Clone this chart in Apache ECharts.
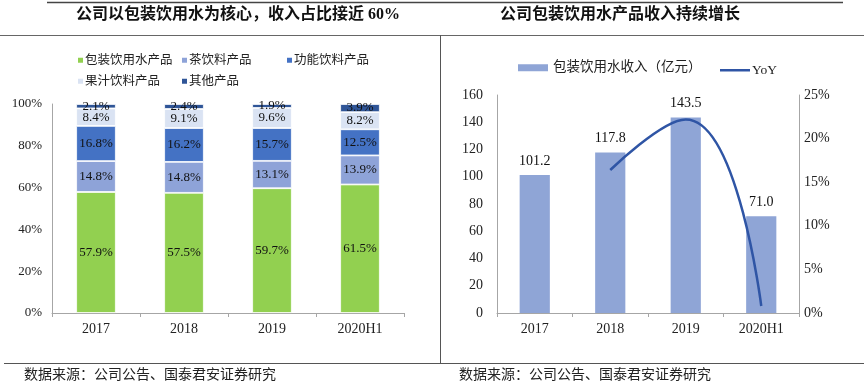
<!DOCTYPE html>
<html><head><meta charset="utf-8">
<script src="https://cdn.jsdelivr.net/npm/echarts@6/dist/echarts.min.js"></script>
<style>html,body{margin:0;padding:0;background:#fff}#c{width:864px;height:387px}</style>
</head><body><div id="c"></div>
<script>
const categories = ['2017', '2018', '2019', '2020H1'];
const waterShare = [57.9, 57.5, 59.7, 61.5];
const teaShare = [14.8, 14.8, 13.1, 13.9];
const functionalShare = [16.8, 16.2, 15.7, 12.5];
const juiceShare = [8.4, 9.1, 9.6, 8.2];
const otherShare = [2.1, 2.4, 1.9, 3.9];
const shareNames = ['包装饮用水产品', '茶饮料产品', '功能饮料产品', '果汁饮料产品', '其他产品'];
const waterRevenue = [101.2, 117.8, 143.5, 71.0];
const waterYoY = [null, 16.4, 22.2, 0.8];
const leftTicks = [0, 20, 40, 60, 80, 100];
const rightTicksRevenue = [0, 20, 40, 60, 80, 100, 120, 140, 160];
const rightTicksYoY = [0, 5, 10, 15, 20, 25];

const SERIF = '"Liberation Serif","Times New Roman","Noto Sans CJK SC",serif';
const CJK = '"Liberation Serif","Noto Sans CJK SC",sans-serif';
const shareColors = ['#92D050', '#8EA3D8', '#4472C4', '#DAE3F3', '#2F5597'];
const shareData = [waterShare, teaShare, functionalShare, juiceShare, otherShare];

const chart = echarts.init(document.getElementById('c'), null, {renderer: 'canvas'});

const legendPos = [[76, 54], [180, 54], [285, 54], [76, 75], [180, 75]];
const legends = shareNames.map((n, i) => ({
  data: [n], left: legendPos[i][0], top: legendPos[i][1], padding: 0, itemWidth: 7, itemHeight: 7,
  icon: 'rect', textStyle: {fontFamily: CJK, fontSize: 12.5, color: '#222', padding: [0, 0, 0, -4]}
}));
legends.push({
  data: [{name: '包装饮用水收入（亿元）', icon: 'rect'}],
  left: 518, top: 61, padding: 0, itemWidth: 30, itemHeight: 7,
  textStyle: {fontFamily: CJK, fontSize: 13.5, color: '#222'}
});
legends.push({
  data: [{name: 'YoY', icon: 'rect'}],
  left: 720, top: 63.5, padding: 0, itemWidth: 30, itemHeight: 2.5,
  textStyle: {fontFamily: CJK, fontSize: 13.5, color: '#222', padding: [0, 0, 0, -3]}
});

const series = shareNames.map((n, i) => ({
  name: n, type: 'bar', stack: 'share', xAxisIndex: 0, yAxisIndex: 0,
  data: shareData[i], barWidth: '45%',
  itemStyle: {color: shareColors[i], borderColor: '#fff', borderWidth: 0.8},
  label: {show: true, position: 'inside', formatter: p => p.value.toFixed(1) + '%',
    fontFamily: SERIF, fontSize: 13, color: '#111'}
}));
series.push({
  name: '包装饮用水收入（亿元）', type: 'bar', xAxisIndex: 1, yAxisIndex: 1,
  data: waterRevenue, barWidth: '40%', itemStyle: {color: '#8FA5D6'},
  label: {show: true, position: 'top', distance: 7, formatter: p => p.value.toFixed(1),
    fontFamily: SERIF, fontSize: 14, color: '#111'}
});
series.push({
  name: 'YoY', type: 'line', xAxisIndex: 1, yAxisIndex: 2,
  data: waterYoY, smooth: 0.5, showSymbol: false, symbol: 'none',
  lineStyle: {color: '#2F55A5', width: 2.5}, itemStyle: {color: '#2F55A5'}
});

const axisLine = {show: true, lineStyle: {color: '#A6A6A6', width: 1}};
const axisLabelStyle = {fontFamily: SERIF, fontSize: 13, color: '#222'};

chart.setOption({
  animation: false,
  legend: legends,
  grid: [
    {left: 52, right: 460, top: 104, bottom: 74},
    {left: 497, right: 65, top: 95, bottom: 74}
  ],
  xAxis: [
    {type: 'category', gridIndex: 0, data: categories, axisLine, axisTick: {show: true, lineStyle: {color: '#A6A6A6'}, length: 4},
      axisLabel: {...axisLabelStyle, fontSize: 14, margin: 9}},
    {type: 'category', gridIndex: 1, data: categories, axisLine, axisTick: {show: true, lineStyle: {color: '#A6A6A6'}, length: 4},
      axisLabel: {...axisLabelStyle, fontSize: 14, margin: 9}}
  ],
  yAxis: [
    {type: 'value', gridIndex: 0, min: 0, max: 100, interval: 20, axisLine, axisTick: {show: false}, splitLine: {show: false},
      axisLabel: {...axisLabelStyle, margin: 10, formatter: '{value}%'}},
    {type: 'value', gridIndex: 1, min: 0, max: 160, interval: 20, axisLine, axisTick: {show: false}, splitLine: {show: false},
      axisLabel: {...axisLabelStyle, fontSize: 14, margin: 14}},
    {type: 'value', gridIndex: 1, position: 'right', min: 0, max: 25, interval: 5, axisLine, axisTick: {show: false}, splitLine: {show: false},
      axisLabel: {...axisLabelStyle, fontSize: 14, margin: 5, formatter: '{value}%'}}
  ],
  series,
  graphic: [
    {type: 'line', shape: {x1: 47, y1: 2.5, x2: 440, y2: 2.5}, style: {stroke: '#444', lineWidth: 1.5}},
    {type: 'line', shape: {x1: 440, y1: 2.5, x2: 843, y2: 2.5}, style: {stroke: '#444', lineWidth: 1.5}},
    {type: 'line', shape: {x1: 0, y1: 35.5, x2: 864, y2: 35.5}, style: {stroke: '#666', lineWidth: 1}},
    {type: 'line', shape: {x1: 440.5, y1: 35, x2: 440.5, y2: 363}, style: {stroke: '#555', lineWidth: 1}},
    {type: 'line', shape: {x1: 4, y1: 363.5, x2: 864, y2: 363.5}, style: {stroke: '#555', lineWidth: 1}},
    {type: 'text', left: 76, top: 7, style: {text: '公司以包装饮用水为核心，收入占比接近 60%', font: 'bold 16px ' + CJK, fill: '#111'}},
    {type: 'text', left: 500, top: 7, style: {text: '公司包装饮用水产品收入持续增长', font: 'bold 16px ' + CJK, fill: '#111'}},
    {type: 'text', left: 24, top: 368, style: {text: '数据来源：公司公告、国泰君安证券研究', font: '14px ' + CJK, fill: '#222'}},
    {type: 'text', left: 459, top: 368, style: {text: '数据来源：公司公告、国泰君安证券研究', font: '14px ' + CJK, fill: '#222'}}
  ]
});
</script></body></html>
